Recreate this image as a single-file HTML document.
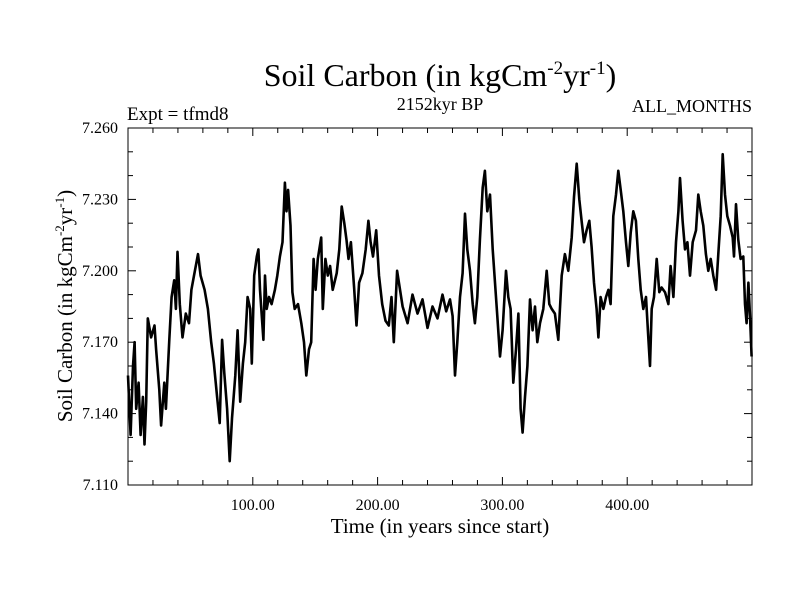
<!DOCTYPE html>
<html><head><meta charset="utf-8"><style>
body{margin:0;background:#fff;}
svg text{font-family:"Liberation Serif",serif;fill:#000;}
</style></head><body>
<svg id="chart" width="800" height="600" xmlns="http://www.w3.org/2000/svg">
<text x="440" y="86" font-size="32" text-anchor="middle">Soil Carbon (in kgCm<tspan font-size="19" dy="-12">-2</tspan><tspan dy="12">yr</tspan><tspan font-size="19" dy="-12">-1</tspan><tspan dy="12">)</tspan></text>
<text x="440" y="110" font-size="18" text-anchor="middle">2152kyr BP</text>
<text x="127" y="120" font-size="19">Expt = tfmd8</text>
<text x="752" y="112" font-size="18" text-anchor="end">ALL_MONTHS</text>
<text x="440" y="533" font-size="21" text-anchor="middle">Time (in years since start)</text>
<text transform="translate(72,306) rotate(-90)" font-size="21" text-anchor="middle">Soil Carbon (in kgCm<tspan font-size="13" dy="-8">-2</tspan><tspan dy="8">yr</tspan><tspan font-size="13" dy="-8">-1</tspan><tspan dy="8">)</tspan></text>
<g id="axes"></g>
<path id="series" fill="none" stroke="#000" stroke-width="2.6" stroke-linejoin="round"/>
<rect x="128" y="128" width="624" height="357" fill="none" stroke="#000" stroke-width="1"/>
</svg>
<script>
const years=[0,2.1,4,5.3,6.6,8.5,10.1,11.9,13.2,14.6,15.9,18.5,21.2,22.5,25.1,26.5,29.1,30.4,33.1,34.9,37,38.4,39.7,41.5,43.7,46.3,48.9,50.8,52.9,56.1,58.2,61.4,64,66.7,68.8,71.4,73.5,75.4,77.2,79.4,81.5,83.3,86,87.8,89.9,92.1,93.9,95.8,97.9,99.2,101.1,103.2,104.5,105.8,108.5,109.8,111.1,113,115.1,117.7,119.6,121.7,123.8,125.7,127,128.3,130.2,131.7,133.6,136.2,138.9,141,142.9,145,146.8,148.7,150.3,152.1,154.8,156.1,158.2,160.1,161.9,164,167.2,169.3,171.2,173.3,175.1,176.7,178.6,181.2,183.1,185.2,187.8,190.5,192.6,194.4,196.3,198.9,201.1,203.7,206.3,209,211.1,213,215.6,220,224,228,232,236,240,244,248,252,255,258,260.1,262,263.9,266,268.1,270,271.9,274,276.2,278,279.9,282,284.2,286,287.9,290.1,292.2,294.1,295.9,298.1,300.2,302.9,304.7,306.6,308.7,310.9,312.8,314.6,316.2,318.1,320,322.1,324.2,326.1,328,330.1,332.8,335.5,337.6,339.5,342.1,344.8,347.5,350.1,352.8,355.5,357.4,359.5,361.6,363.5,365.4,367.5,369.6,371.5,373.4,375.5,376.9,378.7,380.9,383,384.9,386.7,388.9,391,392.9,394.8,396.9,399,400.9,402.8,404.9,407,408.9,410.8,412.9,415.1,416.9,418.3,419.6,421.5,423.6,425.7,427.6,430.3,433,434.8,437,439.1,441,442.3,444.4,446.3,448.2,450.3,452.5,455.1,457,458.9,461,463.1,465,466.9,469,471.2,473,474.9,476.5,478.4,480.2,482.4,484.5,485.6,487.2,489,490.9,493,494.4,495.7,497.1,498.4,499.7];
const carbon=[7.156,7.131,7.160,7.170,7.142,7.153,7.131,7.147,7.127,7.145,7.180,7.172,7.177,7.167,7.150,7.135,7.153,7.142,7.171,7.189,7.196,7.184,7.208,7.186,7.172,7.182,7.178,7.192,7.198,7.207,7.198,7.192,7.184,7.170,7.161,7.147,7.136,7.171,7.157,7.142,7.120,7.138,7.156,7.175,7.145,7.161,7.170,7.189,7.184,7.161,7.198,7.206,7.209,7.192,7.171,7.198,7.184,7.189,7.186,7.192,7.198,7.206,7.212,7.237,7.225,7.234,7.219,7.191,7.184,7.186,7.178,7.170,7.156,7.167,7.170,7.205,7.192,7.205,7.214,7.184,7.205,7.198,7.202,7.192,7.199,7.209,7.227,7.220,7.213,7.205,7.212,7.193,7.177,7.195,7.199,7.209,7.221,7.212,7.206,7.217,7.198,7.186,7.179,7.177,7.189,7.170,7.200,7.185,7.178,7.190,7.182,7.188,7.176,7.185,7.180,7.190,7.183,7.188,7.181,7.156,7.170,7.189,7.199,7.224,7.209,7.200,7.186,7.178,7.189,7.213,7.235,7.242,7.225,7.232,7.209,7.195,7.181,7.164,7.175,7.200,7.189,7.184,7.153,7.167,7.182,7.142,7.132,7.147,7.160,7.188,7.175,7.185,7.170,7.178,7.184,7.200,7.186,7.184,7.182,7.171,7.198,7.207,7.200,7.214,7.231,7.245,7.230,7.221,7.212,7.217,7.221,7.210,7.195,7.184,7.172,7.189,7.184,7.189,7.192,7.186,7.223,7.232,7.242,7.234,7.225,7.212,7.202,7.216,7.225,7.221,7.205,7.192,7.184,7.189,7.172,7.160,7.184,7.189,7.205,7.191,7.193,7.191,7.186,7.202,7.189,7.212,7.225,7.239,7.221,7.209,7.212,7.198,7.212,7.217,7.232,7.225,7.219,7.207,7.200,7.205,7.198,7.192,7.207,7.223,7.249,7.232,7.223,7.219,7.214,7.206,7.228,7.213,7.205,7.206,7.186,7.178,7.195,7.181,7.164];
const xTickLabels=["100.00","200.00","300.00","400.00"];
const xTickValues=[100,200,300,400];
const yTickLabels=["7.110","7.140","7.170","7.200","7.230","7.260"];
const yTickValues=[7.11,7.14,7.17,7.2,7.23,7.26];

const L=128,R=752,T=128,B=485,X0=0,X1=500,Y0=7.11,Y1=7.26;
const sx=v=>L+(v-X0)/(X1-X0)*(R-L);
const sy=v=>B-(v-Y0)/(Y1-Y0)*(B-T);
const NS="http://www.w3.org/2000/svg";
const axes=document.getElementById('axes');
function line(x1,y1,x2,y2,name){const l=document.createElementNS(NS,'line');
l.setAttribute('x1',x1);l.setAttribute('y1',y1);l.setAttribute('x2',x2);l.setAttribute('y2',y2);
l.setAttribute('stroke','#000');l.setAttribute('stroke-width','1');


axes.appendChild(l);}
function text(x,y,s,anchor,name){const t=document.createElementNS(NS,'text');
t.setAttribute('x',x);t.setAttribute('y',y);t.setAttribute('font-size','16');t.setAttribute('text-anchor',anchor);t.textContent=s;


axes.appendChild(t);}
for(let v=20;v<500;v+=20){const x=sx(v);const major=v%100===0;const len=major?8:5;
line(x,B,x,B-len,'x-tick');line(x,T,x,T+len,'x-tick-top');}
for(let i=0;i<xTickValues.length;i++)text(sx(xTickValues[i]),510,xTickLabels[i],'middle','x-tick-label');
for(let k=1;k<15;k++){const v=Y0+k*0.01;const y=sy(v);const major=k%3===0;const len=major?8:5;
line(L,y,L+len,y,'y-tick');line(R,y,R-len,y,'y-tick-right');}
for(let i=0;i<yTickValues.length;i++)text(118,sy(yTickValues[i])+5,yTickLabels[i],'end','y-tick-label');
let d='';for(let i=0;i<years.length;i++)d+=(i?'L':'M')+sx(years[i]).toFixed(1)+','+sy(carbon[i]).toFixed(1);
document.getElementById('series').setAttribute('d',d);
</script>
</body></html>
